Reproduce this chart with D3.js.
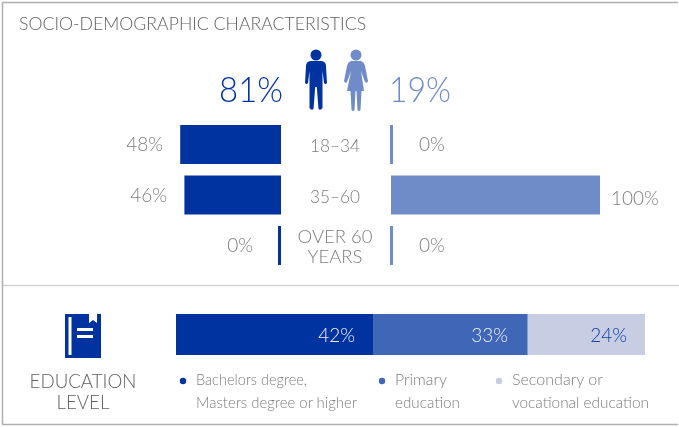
<!DOCTYPE html>
<html>
<head>
<meta charset="utf-8">
<script src="https://d3js.org/d3.v7.min.js"></script>
<style>
  body { margin: 0; background: #fff; }
  svg { display: block; will-change: transform; }
  text { font-family: Lato, sans-serif; font-weight: 300; }
</style>
</head>
<body>
<svg id="drawing_region" width="679" height="427"></svg>
<script>
const ages = ['18–34', '35–60', 'OVER 60'];
const men = [48, 46, 0];
const women = [0, 100, 0];
const share_labels = ['81%', '19%'];
const edu_names = ['Bachelors degree', 'Primary education', 'Secondary or vocational education'];
const edu_values = [42, 33, 25];   // bar lengths as measured
const edu_labels = ['42%', '33%', '24%'];  // as printed

const dark = '#0033a0', light = '#6f8cc9', mid = '#4066b8', pale = '#c7cde2';
const grey = '#7c7c7c', title_grey = '#606060';

const svg = d3.select('#drawing_region');

// frame
svg.append('path').attr('d', 'M678 2.5H2.5V424.5H678').attr('fill', 'none').attr('stroke', '#b0b0b0').attr('stroke-width', 1.5);
svg.append('line').attr('x1', 3).attr('x2', 679).attr('y1', 285.5).attr('y2', 285.5).attr('stroke', '#d2d2d2').attr('stroke-width', 1.5);

svg.append('text').attr('x', 19).attr('y', 30).attr('font-size', 17.7).attr('fill', title_grey).text('SOCIO-DEMOGRAPHIC CHARACTERISTICS');

// share headline
svg.append('text').attr('x', 219).attr('y', 102).attr('font-size', 35).attr('fill', dark)
    .attr('textLength', 64).attr('lengthAdjust', 'spacingAndGlyphs').text(share_labels[0]);
svg.append('text').attr('x', 389).attr('y', 102).attr('font-size', 35).attr('fill', light)
    .attr('textLength', 62).attr('lengthAdjust', 'spacingAndGlyphs').text(share_labels[1]);

// man / woman icons
svg.append('circle').attr('cx', 316).attr('cy', 55).attr('r', 5.5).attr('fill', dark);
svg.append('path').attr('fill', dark)
    .attr('d', 'M310 61H322Q326 62 326 66L327 83Q325.500 85 324 83L322.500 71V108Q320.500 111 318.500 109L316.800 87H315.200L313.500 109Q311.500 111 309.500 108V71L308 83Q306.500 85 305 83L306 66Q306 62 310 61Z');
svg.append('circle').attr('cx', 356).attr('cy', 55).attr('r', 5.500).attr('fill', light);
svg.append('path').attr('fill', light)
    .attr('d', 'M351 61H361Q364 62 365 66L368 81Q367 84 365 82L361 71L364 91H361.500L360.500 110Q359 112 357.500 110L356.500 91H355.500L354.500 110Q353 112 351.500 110L350.500 91H347L351 71L347 82Q345 84 344 81L347 66Q348 62 351 61Z');

// mirrored age bars
const x_left = d3.scaleLinear().domain([0, 100]).range([281, 71]);
const x_right = d3.scaleLinear().domain([0, 100]).range([391, 600]);
const y_band = d3.scaleBand().domain(ages).range([125, 265]).paddingInner(0.228);
const min_w = 3;

svg.append('g').selectAll('rect').data(men).join('rect')
    .attr('x', d => Math.min(x_left(d), x_left(0) - min_w))
    .attr('y', (d, i) => y_band(ages[i]))
    .attr('width', d => Math.max(x_left(0) - x_left(d), min_w))
    .attr('height', y_band.bandwidth())
    .attr('fill', dark);

svg.append('g').selectAll('rect').data(women).join('rect')
    .attr('x', d => d > 0 ? x_right(0) : x_right(0) - 1)
    .attr('y', (d, i) => y_band(ages[i]))
    .attr('width', d => Math.max(x_right(d) - x_right(0), min_w))
    .attr('height', y_band.bandwidth())
    .attr('fill', light);

// value labels
const men_label_x = [163, 167, 253];
svg.append('g').selectAll('text').data(men).join('text')
    .attr('x', (d, i) => men_label_x[i])
    .attr('y', (d, i) => y_band(ages[i]) + 26)
    .attr('text-anchor', 'end').attr('font-size', 19).attr('fill', grey)
    .text(d => d + '%');

svg.append('g').selectAll('text').data(women).join('text')
    .attr('x', d => d > 0 ? 611 : 419)
    .attr('y', (d, i) => y_band(ages[i]) + (d > 0 ? 29 : 26))
    .attr('font-size', 19).attr('fill', grey)
    .text(d => d + '%');

// age labels
svg.append('g').selectAll('text').data(ages.slice(0, 2)).join('text')
    .attr('x', 310)
    .attr('y', d => y_band(d) + 27)
    .attr('font-size', 18.500).attr('fill', grey)
    .attr('textLength', 50).attr('lengthAdjust', 'spacingAndGlyphs')
    .text(d => d);
svg.append('text').attr('x', 335).attr('y', 243).attr('text-anchor', 'middle').attr('font-size', 18.500).attr('fill', grey).text('OVER 60');
svg.append('text').attr('x', 335).attr('y', 263).attr('text-anchor', 'middle').attr('font-size', 18.500).attr('fill', grey).text('YEARS');

// book icon
svg.append('path').attr('fill', dark).attr('fill-rule', 'evenodd')
    .attr('d', 'M65 314H89V323L93 320L97 323V314H101V358H65ZM68.500 317V355H71.500V317ZM77 328V331H93V328ZM77 335V338H93V335Z');

svg.append('text').attr('x', 83).attr('y', 388).attr('text-anchor', 'middle').attr('font-size', 18.7).attr('fill', title_grey).text('EDUCATION');
svg.append('text').attr('x', 83).attr('y', 409).attr('text-anchor', 'middle').attr('font-size', 18.7).attr('fill', title_grey).text('LEVEL');

// education stacked bar
const x_edu = d3.scaleLinear().domain([0, 100]).range([176, 645]);
const edu_start = d3.cumsum(edu_values);
const edu_colors = [dark, mid, pale];
const edu_text = ['#eef1f8', '#eef1f8', '#0f3ea5'];

svg.append('g').selectAll('rect').data(edu_values).join('rect')
    .attr('x', (d, i) => x_edu(edu_start[i] - d))
    .attr('y', 314)
    .attr('width', d => x_edu(d) - x_edu(0))
    .attr('height', 41)
    .attr('fill', (d, i) => edu_colors[i]);

const edu_label_x = [355, 508, 627];
svg.append('g').selectAll('text').data(edu_labels).join('text')
    .attr('x', (d, i) => edu_label_x[i])
    .attr('y', 342)
    .attr('text-anchor', 'end').attr('font-size', 19)
    .attr('fill', (d, i) => edu_text[i])
    .text(d => d);

// legend
const legend_lines = [['Bachelors degree,', 'Masters degree or higher'], ['Primary', 'education'], ['Secondary or', 'vocational education']];
const legend_widths = [[111, 161], [52, 65], [91, 137]];
const legend_x = [183, 382, 499];
const legend = svg.append('g').selectAll('g').data(legend_lines).join('g')
    .attr('transform', (d, i) => `translate(${legend_x[i]}, 381)`);
legend.append('circle').attr('r', 3.200).attr('fill', (d, i) => edu_colors[i]);
legend.each(function(d, k) {
    d3.select(this).selectAll('text').data(d).join('text')
        .attr('x', 13)
        .attr('y', (t, i) => 4 + i * 23)
        .attr('font-size', 15.500).attr('fill', grey)
        .attr('textLength', (t, i) => legend_widths[k][i])
        .attr('lengthAdjust', 'spacingAndGlyphs')
        .text(t => t);
});
</script>
</body>
</html>
